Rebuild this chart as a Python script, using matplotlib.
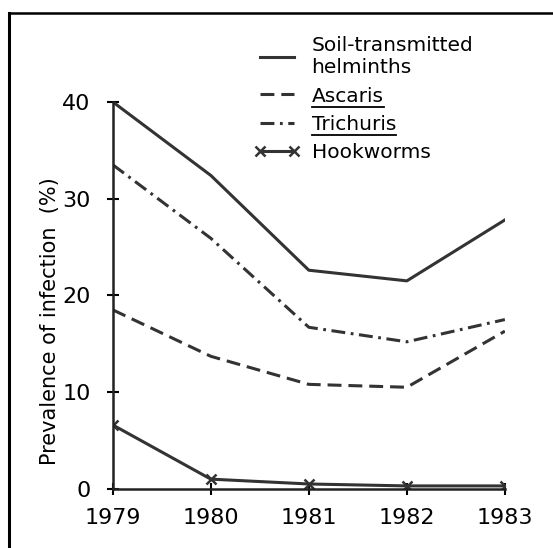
import numpy as np
import matplotlib.pyplot as plt
from matplotlib.lines import Line2D

plt.rcParams['font.family'] = ['DejaVu Sans']
plt.rcParams['lines.scale_dashes'] = False

years = [1979, 1980, 1981, 1982, 1983]
soil = [40.0, 32.4, 22.6, 21.5, 27.8]
ascaris = [18.5, 13.7, 10.8, 10.5, 16.3]
trichuris = [33.5, 25.9, 16.7, 15.2, 17.5]
hookworms = [6.6, 1.0, 0.5, 0.3, 0.3]

yticks = [0, 10, 20, 30, 40]
ylabel = "Prevalence of infection  (%)"

ink = "#333333"
lw = 2.2

fig = plt.figure(figsize=(5.53, 5.48), dpi=100)
ax = fig.add_axes([0.204, 0.108, 0.709, 0.706])

ax.plot(years, soil, color=ink, lw=lw, label="Soil-transmitted\nhelminths")
ax.plot(years, ascaris, color=ink, lw=lw, dashes=(10, 5), label="Ascaris")
ax.plot(years, trichuris, color=ink, lw=lw, dashes=(10, 4, 2, 4), label="Trichuris")
ax.plot(years, hookworms, color=ink, lw=lw, marker="x", ms=7, mew=1.8,
        label="Hookworms")

ax.set_xlim(years[0], years[-1])
ax.set_ylim(0, 40)
ax.set_xticks(years)
ax.set_yticks(yticks)
ax.tick_params(direction="inout", length=8, width=1.5, labelsize=16,
               colors="black")
ax.tick_params(axis="y", pad=12)
ax.tick_params(axis="x", pad=10)
for s in ["top", "right"]:
    ax.spines[s].set_visible(False)
for s in ["left", "bottom"]:
    ax.spines[s].set_linewidth(1.8)
    ax.spines[s].set_color("#222222")
ax.set_ylabel(ylabel, fontsize=15)
ax.yaxis.set_label_coords(-0.135, 0.434)

leg = ax.legend(loc="upper left", bbox_to_anchor=(0.34, 1.19), frameon=False,
                fontsize=14.5, handlelength=2.3, handletextpad=0.55,
                labelspacing=0.45, numpoints=2, borderaxespad=0)

# page frame: left and top edges
fig.add_artist(Line2D([0.016, 0.016], [0.0, 0.976], color="black", lw=2.2,
                      transform=fig.transFigure))
fig.add_artist(Line2D([0.016, 1.0], [0.976, 0.976], color="black", lw=1.8,
                      transform=fig.transFigure))

# underline species names
fig.canvas.draw()
r = fig.canvas.get_renderer()
for t in leg.get_texts():
    if t.get_text() in ("Ascaris", "Trichuris"):
        bb = t.get_window_extent(r).transformed(fig.transFigure.inverted())
        fig.add_artist(Line2D([bb.x0, bb.x1], [bb.y0 - 0.002, bb.y0 - 0.002],
                              color="black", lw=1.3, transform=fig.transFigure))

fig.savefig("out.png", dpi=100)
